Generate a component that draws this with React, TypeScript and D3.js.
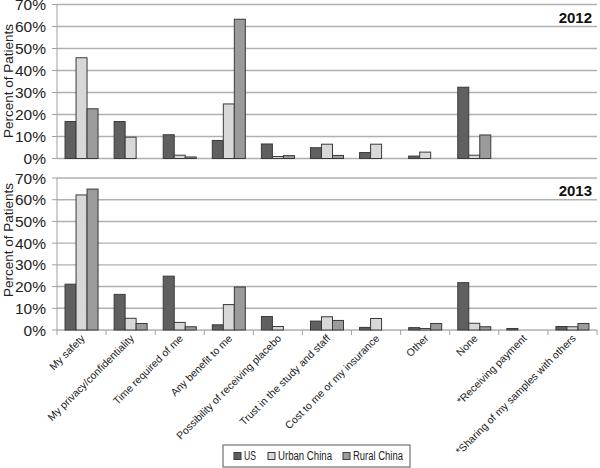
import React from "react";
import * as d3 from "d3";

const categories = [
  "My safety",
  "My privacy/confidentiality",
  "Time required of me",
  "Any benefit to me",
  "Possibility of receiving placebo",
  "Trust in the study and staff",
  "Cost to me or my insurance",
  "Other",
  "None",
  "*Receiving payment",
  "*Sharing of my samples with others",
];
const seriesNames = ["US", "Urban China", "Rural China"];
const seriesColors = ["#606060", "#d8d8d8", "#9b9b9b"];

// 2012 values (%)
const us2012 = [16.8, 16.8, 10.8, 8.2, 6.6, 4.9, 2.7, 1.1, 32.4, 0, 0];
const urban2012 = [45.8, 9.7, 1.5, 24.8, 0.9, 6.5, 6.5, 2.9, 1.5, 0, 0];
const rural2012 = [22.6, 0, 0.7, 63.3, 1.3, 1.4, 0, 0, 10.7, 0, 0];

// 2013 values (%)
const us2013 = [21.1, 16.4, 24.8, 2.4, 6.2, 4.1, 1.2, 1.1, 21.8, 0.7, 1.6];
const urban2013 = [62.2, 5.4, 3.5, 11.7, 1.6, 6.1, 5.3, 0.7, 3.1, 0, 1.5];
const rural2013 = [64.9, 3.0, 1.5, 19.8, 0, 4.4, 0, 3.0, 1.5, 0, 3.0];

const yTicks = [0, 10, 20, 30, 40, 50, 60, 70];

const W = 600;
const H = 468;
const LEFT = 57;
const RIGHT = 597;

const x0 = d3.scaleBand<string>().domain(categories).range([LEFT, RIGHT]).padding(0);
const x1 = d3
  .scaleBand<string>()
  .domain(seriesNames)
  .range([0, x0.bandwidth()])
  .paddingInner(0)
  .paddingOuter(0.73);

const FONT = "'Liberation Sans', Arial, sans-serif";

function Panel({
  data,
  y0,
  y1,
  year,
  titleY,
  showTicks,
}: {
  data: number[][];
  y0: number;
  y1: number;
  year: string;
  titleY: number;
  showTicks: boolean;
}) {
  const y = d3.scaleLinear().domain([0, 70]).range([y0, y1]);
  return (
    <g>
      {yTicks.map((t) => (
        <g key={t}>
          <line x1={LEFT} x2={RIGHT} y1={y(t)} y2={y(t)} stroke="#b0b0b0" strokeWidth={1.4} />
          <line x1={LEFT - 5} x2={LEFT} y1={y(t)} y2={y(t)} stroke="#a0a0a0" strokeWidth={1} />
          <text
            x={46}
            y={y(t)}
            dy="0.36em"
            textAnchor="end"
            fontFamily={FONT}
            fontSize={15.5}
            fill="#222"
          >
            {t}%
          </text>
        </g>
      ))}
      <line x1={LEFT} x2={LEFT} y1={y(0)} y2={y(70)} stroke="#a0a0a0" strokeWidth={1} />
      {showTicks &&
        d3.range(categories.length + 1).map((i) => {
          const xx = LEFT + i * x0.bandwidth();
          return (
            <line key={i} x1={xx} x2={xx} y1={y(0)} y2={y(0) + 5} stroke="#a0a0a0" strokeWidth={1} />
          );
        })}
      {categories.map((c, ci) =>
        seriesNames.map((s, si) => {
          const v = data[si][ci];
          if (!v) return null;
          return (
            <rect
              key={c + s}
              x={(x0(c) as number) + (x1(s) as number)}
              y={y(v)}
              width={x1.bandwidth()}
              height={y(0) - y(v)}
              fill={seriesColors[si]}
              stroke="#3a3a3a"
              strokeWidth={1}
            />
          );
        })
      )}
      <text
        transform={`translate(12.5,${titleY}) rotate(-90)`}
        textAnchor="middle"
        fontFamily={FONT}
        fontSize={13.5}
        fill="#222"
      >
        Percent of Patients
      </text>
      <text
        x={592}
        y={y(70) + 18}
        textAnchor="end"
        fontFamily={FONT}
        fontSize={15}
        fontWeight="bold"
        fill="#111"
      >
        {year}
      </text>
    </g>
  );
}

export default function App() {
  const legendX = 223;
  const legendY = 445;
  const legendItems = [
    { x: 234, label: seriesNames[0], color: seriesColors[0], w: 12 },
    { x: 268, label: seriesNames[1], color: seriesColors[1], w: 54 },
    { x: 343, label: seriesNames[2], color: seriesColors[2], w: 50 },
  ];
  return (
    <svg
      width={W}
      height={H}
      style={{ position: "absolute", left: 0, top: 0, background: "#fff" }}
    >
      <rect x={0} y={0} width={W} height={H} fill="#fff" />
      <Panel
        data={[us2012, urban2012, rural2012]}
        y0={158.5}
        y1={4.5}
        year="2012"
        titleY={81}
        showTicks={false}
      />
      <Panel
        data={[us2013, urban2013, rural2013]}
        y0={330}
        y1={178}
        year="2013"
        titleY={240}
        showTicks={true}
      />
      {categories.map((c) => {
        const cx = (x0(c) as number) + x0.bandwidth() / 2 + 4;
        return (
          <text
            key={c}
            transform={`translate(${cx},${339}) rotate(-45)`}
            textAnchor="end"
            fontFamily={FONT}
            fontSize={10.5}
            fill="#222"
          >
            {c}
          </text>
        );
      })}
      <rect
        x={legendX}
        y={legendY}
        width={187}
        height={22}
        fill="#fff"
        stroke="#555"
        strokeWidth={1}
      />
      {legendItems.map((it) => (
        <g key={it.label}>
          <rect
            x={it.x}
            y={legendY + 7.5}
            width={7}
            height={7}
            fill={it.color}
            stroke="#3a3a3a"
            strokeWidth={1}
          />
          <text
            x={it.x + 10}
            y={legendY + 11}
            dy="0.36em"
            fontFamily={FONT}
            fontSize={12}
            textLength={it.w}
            lengthAdjust="spacingAndGlyphs"
            fill="#222"
          >
            {it.label}
          </text>
        </g>
      ))}
    </svg>
  );
}
